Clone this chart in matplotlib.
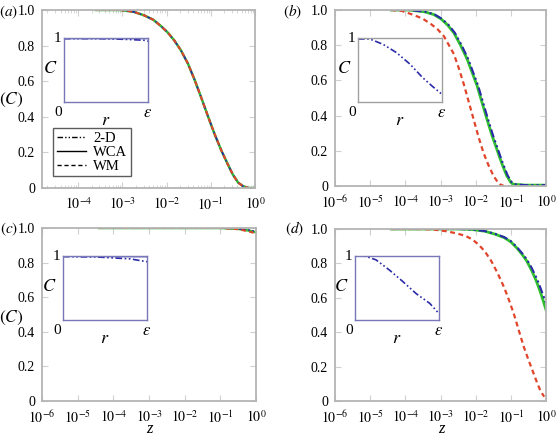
import numpy as np
import matplotlib.pyplot as plt
from matplotlib.lines import Line2D

plt.rcParams['font.family'] = ['Liberation Serif', 'DejaVu Serif']
plt.rcParams['mathtext.fontset'] = 'stix'

# panel (a): the three models lie on top of each other
a_logz = [-3.6, -3.05, -2.75, -2.51, -2.3, -2.13, -1.98, -1.83, -1.68, -1.52, -1.37,
          -1.22, -1.06, -0.91, -0.76, -0.61, -0.5, -0.38, -0.27, -0.15, 0.0]
a_C = [1.0, 1.0, 0.99, 0.97, 0.945, 0.91, 0.875, 0.83, 0.775, 0.70, 0.61,
       0.51, 0.40, 0.30, 0.21, 0.13, 0.075, 0.03, 0.01, 0.0, 0.0]

# panel (b)
b_logz_wca = [-4.4, -3.9, -3.46, -3.2, -2.99, -2.8, -2.62, -2.43, -2.24, -2.1, -1.96,
              -1.82, -1.68, -1.54, -1.4, -1.26, -1.12, -1.0, -0.93, -0.6, 0.0]
b_C_wca = [1.0, 1.0, 0.99, 0.975, 0.95, 0.915, 0.87, 0.80, 0.72, 0.645, 0.57,
           0.475, 0.38, 0.29, 0.21, 0.13, 0.06, 0.02, 0.01, 0.005, 0.005]
b_logz_2d = [-4.4, -3.9, -3.43, -3.17, -2.96, -2.77, -2.59, -2.4, -2.21, -2.07, -1.93,
             -1.79, -1.65, -1.51, -1.37, -1.23, -1.09, -0.97, -0.9, -0.6, 0.0]
b_C_2d = [1.0, 1.0, 0.99, 0.975, 0.95, 0.915, 0.87, 0.80, 0.72, 0.645, 0.57,
          0.475, 0.38, 0.29, 0.21, 0.13, 0.06, 0.02, 0.01, 0.005, 0.005]
b_logz_wm = [-4.4, -4.1, -3.74, -3.5, -3.27, -3.08, -2.9, -2.76, -2.62, -2.48, -2.34,
             -2.2, -2.06, -1.92, -1.78, -1.64, -1.5, -1.4, -1.31, -1.2]
b_C_wm = [1.0, 0.995, 0.97, 0.95, 0.92, 0.89, 0.85, 0.80, 0.75, 0.67, 0.58,
          0.48, 0.38, 0.28, 0.19, 0.12, 0.06, 0.03, 0.01, 0.0]

# panel (c)
c_logz = [-4.4, -2.0, -1.0, -0.5, -0.2, 0.0]
c_C_wca = [1.0, 1.0, 1.0, 0.995, 0.985, 0.975]
c_C_wm = [1.0, 1.0, 1.0, 0.993, 0.98, 0.968]
c_C_2d = [1.0, 1.0, 1.0, 0.996, 0.988, 0.98]

# panel (d)
d_logz = [-4.4, -3.0, -2.47, -2.1, -1.74, -1.45, -1.19, -1.0, -0.83, -0.69, -0.55,
          -0.41, -0.28, -0.18, -0.09, 0.0]
d_C_wca = [1.0, 1.0, 1.0, 0.997, 0.987, 0.97, 0.95, 0.925, 0.89, 0.855, 0.815,
           0.76, 0.70, 0.645, 0.59, 0.53]
d_C_2d = [1.0, 1.0, 1.0, 0.997, 0.988, 0.972, 0.953, 0.93, 0.895, 0.862, 0.825,
          0.775, 0.72, 0.67, 0.62, 0.57]
d_logz_wm = [-4.4, -3.57, -3.2, -2.84, -2.55, -2.29, -2.1, -1.92, -1.74, -1.56, -1.38,
             -1.19, -1.05, -0.92, -0.78, -0.64, -0.5, -0.37, -0.27, -0.18, -0.1, -0.05]
d_C_wm = [1.0, 1.0, 0.997, 0.987, 0.975, 0.96, 0.94, 0.91, 0.87, 0.815, 0.745,
          0.66, 0.585, 0.51, 0.415, 0.32, 0.24, 0.17, 0.115, 0.07, 0.04, 0.025]

# insets: C against r (r runs 0 .. epsilon)
ia_r = [0.0, 0.4, 0.6, 0.8, 0.95, 1.0]
ia_C_2d = [0.99, 0.99, 0.985, 0.975, 0.965, 0.95]
ib_r = [0.0, 0.14, 0.30, 0.46, 0.62, 0.77, 0.89, 1.0]
ib_C_2d = [0.985, 0.985, 0.90, 0.77, 0.59, 0.38, 0.24, 0.12]
ic_r = [0.0, 0.4, 0.6, 0.8, 1.0]
ic_C_2d = [0.99, 0.985, 0.97, 0.955, 0.91]
id_r = [0.0, 0.13, 0.25, 0.41, 0.57, 0.73, 0.89, 1.0]
id_C_2d = [1.0, 0.995, 0.94, 0.78, 0.60, 0.41, 0.26, 0.10]
flat_r = [0.0, 1.0]
flat_C = [0.995, 0.995]

GREEN = '#2fbf2f'
RED = '#e0452c'
BLUE = '#2a2aa8'
FRAME = '#b4b4b4'
DASH = (0, (2.2, 1.6))
DASHDOT = (0, (4, 1.5, 1, 1.5, 1, 1.5))

W, H = 556, 438
fig = plt.figure(figsize=(W / 100, H / 100), dpi=100)


def px_axes(l, t, r, b):
    return fig.add_axes([l / W, 1 - b / H, (r - l) / W, (b - t) / H])


def style_main(ax, xmin, xticks):
    ax.set_xscale('log')
    ax.set_xlim(10 ** xmin, 1)
    ax.set_ylim(0, 1)
    ax.set_xticks([10.0 ** k for k in xticks])
    ax.set_xticklabels([r'$10^{%d}$' % k for k in xticks])
    ax.set_yticks([0, 0.2, 0.4, 0.6, 0.8, 1.0])
    ax.set_yticklabels(['0', '0.2', '0.4', '0.6', '0.8', '1.0'])
    for s in ax.spines.values():
        s.set_color(FRAME)
        s.set_linewidth(1.3)
    ax.tick_params(which='both', direction='in', top=True, right=True,
                   color='#d0d0d0', labelsize=10)
    ax.tick_params(which='major', length=4)
    ax.tick_params(which='minor', length=2)
    ax.tick_params(axis='y', pad=5)
    ax.tick_params(axis='x', pad=6)


def add_inset(l, t, r, b, frame):
    ins = px_axes(l, t, r, b)
    ins.set_xlim(0, 1)
    ins.set_ylim(0, 1)
    ins.set_xticks([])
    ins.set_yticks([])
    for s in ins.spines.values():
        s.set_color(frame)
        s.set_linewidth(1.0)
    ins.text(-0.08, 1.0, '1', transform=ins.transAxes, ha='center', va='center', fontsize=11)
    ins.text(-0.07, -0.17, '0', transform=ins.transAxes, ha='center', va='center', fontsize=11)
    ins.text(1.0, -0.17, r'$\epsilon$', transform=ins.transAxes, ha='center', va='center', fontsize=12)
    ins.text(0.5, -0.29, r'$r$', transform=ins.transAxes, ha='center', va='center', fontsize=13)
    ins.text(-0.08, 0.52, r'$C$', transform=ins.transAxes, ha='right', va='center', fontsize=13)
    return ins


def lz(v):
    return 10.0 ** np.array(v)


# (a)
ax = px_axes(42, 10, 255, 188)
style_main(ax, -4.82, [-4, -3, -2, -1, 0])
ax.plot(lz(a_logz), a_C, color=GREEN, lw=1.8)
ax.plot(lz(a_logz), a_C, color=BLUE, lw=1.2, ls=DASHDOT)
ax.plot(lz(a_logz), a_C, color=RED, lw=1.5, ls=DASH)
handles = [Line2D([], [], color='k', lw=1, ls=DASHDOT),
           Line2D([], [], color='k', lw=1, ls='-'),
           Line2D([], [], color='k', lw=1, ls=(0, (3, 2)))]
leg = ax.legend(handles, ['2-D', 'WCA', 'WM'], loc='lower left',
                bbox_to_anchor=(0.052, 0.065), fontsize=10.5, frameon=True,
                fancybox=False, edgecolor='#333333', handlelength=2.0,
                handletextpad=0.5, borderpad=0.25, labelspacing=0.05,
                borderaxespad=0)
leg.get_frame().set_linewidth(1.0)
ins = add_inset(64, 38, 148, 102, '#7878b8')
ins.plot(flat_r, flat_C, color=BLUE, lw=1.0)
ins.plot(ia_r, ia_C_2d, color=BLUE, lw=1.2, ls=DASHDOT)

# (b)
ax = px_axes(335, 10, 546, 186)
style_main(ax, -6, [-6, -5, -4, -3, -2, -1, 0])
ax.plot(lz(b_logz_wca), b_C_wca, color=GREEN, lw=2.0)
ax.plot(lz(b_logz_2d), b_C_2d, color=BLUE, lw=1.5, ls=DASHDOT)
ax.plot(lz(b_logz_wm), b_C_wm, color=RED, lw=1.6, ls=DASH)
ins = add_inset(358, 38, 442, 102, '#a0a0a0')
ins.plot(ib_r, ib_C_2d, color=BLUE, lw=1.2, ls=DASHDOT)

# (c)
ax = px_axes(42, 228, 256, 401)
style_main(ax, -6, [-6, -5, -4, -3, -2, -1, 0])
ax.plot(lz(c_logz), c_C_wca, color=GREEN, lw=1.8)
ax.plot(lz(c_logz), c_C_2d, color=BLUE, lw=1.2, ls=DASHDOT)
ax.plot(lz(c_logz), c_C_wm, color=RED, lw=1.5, ls=DASH)
ins = add_inset(63, 256, 147, 320, '#7878b8')
ins.plot(flat_r, [0.995, 0.99], color=BLUE, lw=1.0)
ins.plot(ic_r, ic_C_2d, color=BLUE, lw=1.2, ls=DASHDOT)

# (d)
ax = px_axes(335, 229, 546, 401)
style_main(ax, -6, [-6, -5, -4, -3, -2, -1, 0])
ax.plot(lz(d_logz), d_C_wca, color=GREEN, lw=2.0)
ax.plot(lz(d_logz), d_C_2d, color=BLUE, lw=1.5, ls=DASHDOT)
ax.plot(lz(d_logz_wm), d_C_wm, color=RED, lw=1.6, ls=DASH)
ins = add_inset(355, 256, 439, 320, '#7878b8')
ins.plot(id_r, id_C_2d, color=BLUE, lw=1.2, ls=DASHDOT)

# x labels under the bottom row
for x in (149, 441):
    fig.text(x / W, 1 - 429 / H, 'z', style='italic', ha='center', va='center', fontsize=12)

# panel letters and y labels at the left edge
for x, y, s in [(9, 12, 'a'), (293, 12, 'b'), (9, 229, 'c'), (295, 229, 'd')]:
    fig.text(x / W, 1 - y / H, r'$(\mathit{%s})$' % s,
             ha='center', va='center', fontsize=11)
for y in (100, 318):
    fig.text(11 / W, 1 - y / H, r'$(C)$', ha='center', va='center', fontsize=12.5)

fig.savefig('out.png', dpi=100)
